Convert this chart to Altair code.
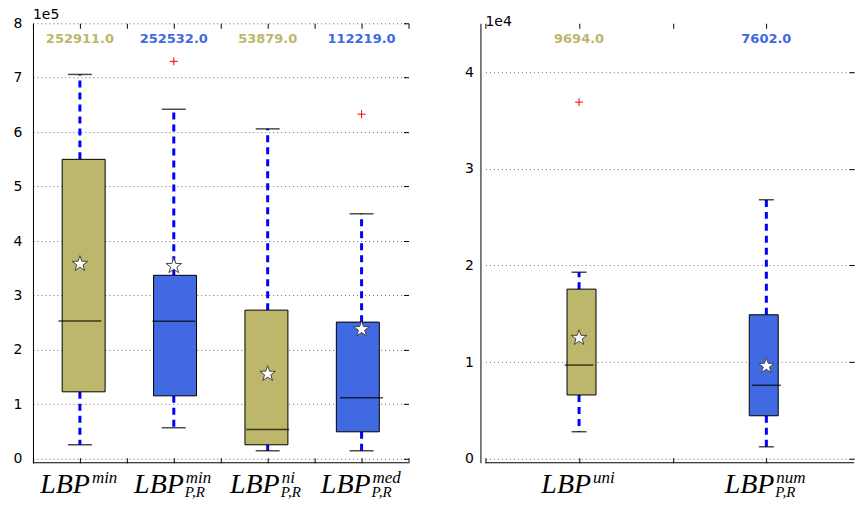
import altair as alt
import pandas as pd

# ---------------- data ----------------
# left panel
L_sup = ["min", "min", "ni", "med"]
L_sub = ["", "P,R", "P,R", "P,R"]
L_group = ["olive", "blue", "olive", "blue"]
L_lo = [25700, 57000, 14700, 14700]
L_q1 = [123000, 115600, 25700, 49500]
L_med = [252911.0, 252532.0, 53879.0, 112219.0]
L_q3 = [550000, 337000, 273000, 251000]
L_hi = [706000, 642000, 606000, 450000]
L_mean = [358000, 354000, 156000, 238000]
L_out_box = [2, 4]
L_out_val = [730000, 633000]

# right panel
R_sup = ["uni", "num"]
R_sub = ["", "P,R"]
R_group = ["olive", "blue"]
R_lo = [2800, 1240]
R_q1 = [6600, 4450]
R_med = [9694.0, 7602.0]
R_q3 = [17550, 14900]
R_hi = [19300, 26800]
R_mean = [12500, 9600]
R_out_box = [1]
R_out_val = [36900]

# ---------------- style ----------------
OLIVE = "#BDB76B"
BLUE = "#4169E1"
WHISK = "#0000FF"
H = 440
STAR = ("M0,-1L0.235,-0.324L0.951,-0.309L0.38,0.124L0.588,0.809L0,0.4"
        "L-0.588,0.809L-0.38,0.124L-0.951,-0.309L-0.235,-0.324Z")
PLUS = "M-1,0L1,0M0,-1L0,1"
MATH = "Liberation Serif"


def panel(sup, sub, group, lo, q1, med, q3, hi, mean, out_box, out_val,
          width, xmax, ymin, ymax, ystep, title, box_w, cap_w, label_dx,
          y_offset, y_pad):
    n = len(med)
    df = pd.DataFrame(dict(pos=list(range(1, n + 1)), lo=lo, q1=q1, med=med,
                           q3=q3, hi=hi, mean=mean, group=group, sup=sup,
                           sub=sub, medtxt=[f"{m:.1f}" for m in med]))
    out = pd.DataFrame(dict(pos=out_box, val=out_val))
    xdom = [0.5, xmax]
    ydom = [ymin, ymax]
    xticks = []
    t = 0.5
    while t <= xmax + 1e-9:
        xticks.append(t)
        t += 0.5
    yticks = [ystep * k for k in range(int(ymax // ystep) + 1)]
    xs = alt.Scale(domain=xdom, nice=False, zero=False)
    ys = alt.Scale(domain=ydom, nice=False, zero=False)
    col = alt.Color("group:N", scale=alt.Scale(domain=["olive", "blue"],
                                               range=[OLIVE, BLUE]), legend=None)
    base = alt.Chart(df)
    X = alt.X("pos:Q", scale=xs, axis=None)

    def Y(f):
        return alt.Y(f, scale=ys, axis=None)

    ax_x = alt.X("pos:Q", scale=xs, axis=alt.Axis(
        orient="bottom", values=xticks, labels=False, domain=False,
        ticks=True, tickSize=5, offset=-5, tickColor="black", grid=False,
        title=None))
    ax_y = alt.Y("q3:Q", scale=ys, axis=alt.Axis(
        orient="left", values=yticks, labelExpr=f"datum.value / {ystep}",
        grid=True, gridDash=[1, 3], gridColor="#666", ticks=False, tickSize=0,
        domain=True, domainColor="black", labelPadding=y_pad, offset=y_offset,
        title=None))

    upper = base.mark_rule(color=WHISK, strokeWidth=3, strokeDash=[7, 5]).encode(
        x=ax_x, y=ax_y, y2="hi:Q")
    lower = base.mark_rule(color=WHISK, strokeWidth=3, strokeDash=[7, 5]).encode(
        x=X, y=Y("q1:Q"), y2="lo:Q")
    box = base.mark_bar(size=box_w, stroke="black", strokeWidth=1).encode(
        x=X, y=Y("q1:Q"), y2="q3:Q", color=col)
    medl = base.mark_tick(orient="horizontal", size=box_w, thickness=1.5,
                          color="black").encode(x=X, y=Y("med:Q"))
    capl = base.mark_tick(orient="horizontal", size=cap_w, thickness=1.5,
                          color="black").encode(x=X, y=Y("lo:Q"))
    caph = base.mark_tick(orient="horizontal", size=cap_w, thickness=1.5,
                          color="black").encode(x=X, y=Y("hi:Q"))
    outl = alt.Chart(out).mark_point(shape=PLUS, size=64, color="red",
                                     strokeWidth=1, filled=False,
                                     opacity=1).encode(x=X, y=Y("val:Q"))
    medtext = base.mark_text(font="DejaVu Sans", fontSize=13, fontWeight="bold",
                             baseline="middle", align="center").encode(
        x=X, y=alt.value(16), text="medtxt:N", color=col)
    spine = alt.Chart(pd.DataFrame({"a": [0]})).mark_rule(
        color="black", strokeWidth=1).encode(
        x=alt.value(0), x2=alt.value(width), y=alt.value(H))

    layers = [upper, lower, box, medl, capl, caph, outl, medtext, spine]
    for i in range(n):
        d = label_dx[i]
        row = base.transform_filter(alt.datum.pos == i + 1)
        layers.append(row.mark_text(
            text="LBP", font=MATH, fontStyle="italic", fontSize=28,
            align="right", baseline="alphabetic", dx=d, color="black").encode(
            x=X, y=alt.value(H + 30)))
        layers.append(row.mark_text(
            font=MATH, fontStyle="italic", fontSize=17, align="left",
            baseline="alphabetic", dx=d + 2, color="black").encode(
            x=X, y=alt.value(H + 20), text="sup:N"))
        if sub[i]:
            layers.append(row.mark_text(
                font=MATH, fontStyle="italic", fontSize=15, align="left",
                baseline="alphabetic", dx=d + 1, color="black").encode(
                x=X, y=alt.value(H + 34), text="sub:N"))

    stars = base.mark_point(shape=STAR, size=270, filled=True, fill="white",
                            stroke="#444", strokeWidth=1, opacity=1).encode(
        x=alt.X("pos:Q", scale=xs, axis=alt.Axis(
            orient="top", values=xticks, labels=False, domain=False,
            tickSize=5, offset=-5, grid=False, title=None, tickColor="black")),
        y=alt.Y("mean:Q", scale=ys, axis=alt.Axis(
            orient="right", values=yticks, labels=False, domain=False,
            tickSize=5, offset=-5, grid=False, title=None, tickColor="black")))
    layers.append(stars)
    return alt.layer(*layers).resolve_scale(
        x="independent", y="independent").properties(
        width=width, height=H,
        title=alt.TitleParams(title, anchor="start", frame="group",
                              fontSize=14, font="DejaVu Sans",
                              fontWeight="normal", color="black", offset=-6))


left = panel(L_sup, L_sub, L_group, L_lo, L_q1, L_med, L_q3, L_hi, L_mean,
             L_out_box, L_out_val, width=376, xmax=4.5, ymin=-7340,
             ymax=800000, ystep=100000, title="1e5", box_w=43, cap_w=24,
             label_dx=[10, 10, 12, 9], y_offset=0, y_pad=11)
right = panel(R_sup, R_sub, R_group, R_lo, R_q1, R_med, R_q3, R_hi, R_mean,
              R_out_box, R_out_val, width=369, xmax=2.468, ymin=-413,
              ymax=45060, ystep=10000, title="1e4", box_w=29, cap_w=15,
              label_dx=[12, 8], y_offset=5, y_pad=7)

chart = alt.hconcat(left, right, spacing=55).properties(
    padding={"left": 13, "top": 8, "right": 0, "bottom": 4}
).configure_view(stroke=None).configure_axis(
    labelFont="DejaVu Sans", labelFontSize=14, labelColor="black")

chart.save("out.html", embed_options={"renderer": "svg", "actions": False})
